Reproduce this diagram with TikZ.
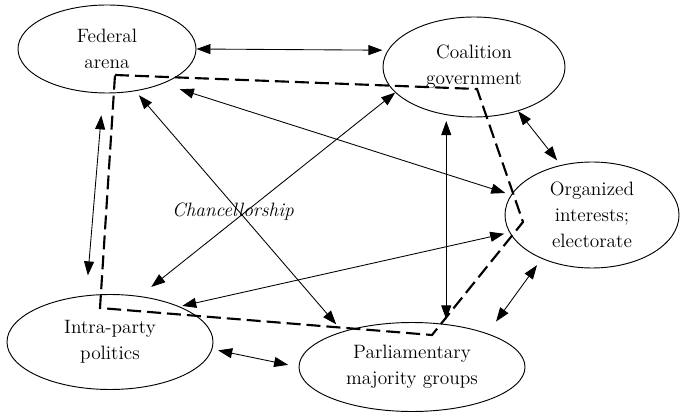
\documentclass[tikz,border=0pt]{standalone}
\usepackage{amsmath,amssymb,tikz}
\usetikzlibrary{positioning,shapes.geometric,arrows.meta}

\begin{document}
\begin{tikzpicture}
  [x=0.75pt,y=-0.75pt,auto=center,
   every node/.style={ellipse,draw,line width=0.7pt,inner sep=0pt,align=center,font=\fontsize{14.5}{19.5}\selectfont},
   link/.style={{Triangle[length=10.5pt,width=7.5pt]}-{Triangle[length=10.5pt,width=7.5pt]},line width=0.65pt},
   border/.style={line width=1.6pt,dash pattern=on 10.5pt off 4.5pt}]

  \useasboundingbox (0,0) rectangle (680,416);

  \node[minimum width=133.5pt,minimum height=66pt] (fed) at (107,49) {Federal\\arena};
  \node[minimum width=136.5pt,minimum height=75pt] (coal) at (474,67) {Coalition\\government};
  \node[minimum width=130.5pt,minimum height=79.5pt] (org) at (592,215) {Organized\\interests;\\electorate};
  \node[minimum width=154.5pt,minimum height=71.25pt] (intra) at (110,342) {Intra-party\\politics};
  \node[minimum width=169.5pt,minimum height=66.75pt] (parl) at (412,367) {Parliamentary\\majority groups};
  \node[draw=none,shape=rectangle,font=\fontsize{14.5}{19.5}\selectfont\itshape] (chan) at (233,212) {Chancellorship};

  \draw[border] (115,75) -- (477,89) -- (523,222) -- (432,335) -- (100,308) -- cycle;

  \draw[link,shorten >=4pt] (fed.0) -- (coal.169);
  \draw[link,shorten <=16.5pt,shorten >=15pt] (fed.265) -- (intra.117);
  \draw[link,shorten <=4pt,shorten >=7pt] (fed.304) -- (parl.153);
  \draw[link,shorten <=13.5pt,shorten >=4.5pt] (fed.328) -- (org.166);
  \draw[link,shorten >=11pt] (coal.198) -- (intra.57);
  \draw[link,shorten <=4.5pt,shorten >=2pt] (coal.240) -- (coal.240 |- parl.north);
  \draw[link,shorten >=4.5pt] (coal.315) -- (org.122);
  \draw[link,shorten <=4pt,shorten >=2pt] (org.192) -- (intra.27);
  \draw[link,shorten <=6pt,shorten >=11pt] (org.221) -- (parl.24);
  \draw[link,shorten <=4.5pt,shorten >=8pt] (intra.356) -- (parl.180);

\end{tikzpicture}
\end{document}
